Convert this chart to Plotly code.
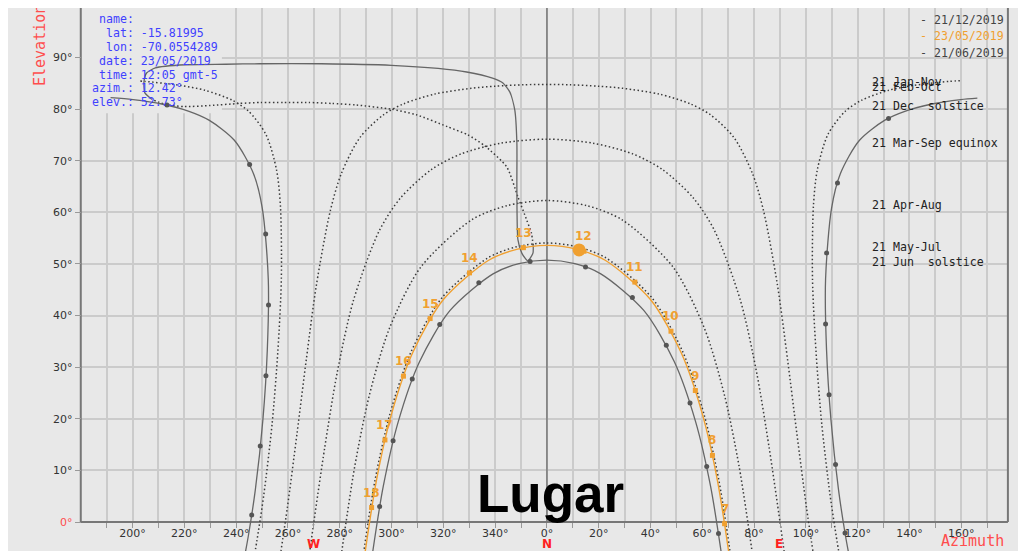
import plotly.graph_objects as go

# ---------------- data (azimuth deg, N = 0, E > 0, W < 0 ; elevation deg) ----------------
dec_east_az = [116.5, 115.25, 112.6, 109.7, 107.97, 107.6, 109.9, 113.3, 120.7, 130.5, 138.2, 148.7, 159.8, 166.2]
dec_east_el = [-6.03, -2.57, 6.22, 19.68, 33.35, 47.1, 60.78, 67.5, 73.97, 77.87, 79.58, 81.0, 81.85, 82.13]
dec_west_az = [-168.5, -159.8, -148.7, -138.2, -130.5, -120.7, -113.3, -109.9, -107.6, -107.97, -109.7, -112.6, -115.25, -116.5]
dec_west_el = [82.22, 81.85, 81.0, 79.58, 77.87, 73.97, 67.5, 60.78, 47.1, 33.35, 19.68, 6.22, -2.57, -6.03]
dec_dots_az = [115.1, 111.45, 108.95, 107.6, 108.0, 112.2, 131.9, -146.7, -114.8, -108.6, -107.5, -108.5, -110.7, -114.0]
dec_dots_el = [-2.14, 11.13, 24.68, 38.39, 52.14, 65.7, 78.2, 80.8, 69.25, 55.8, 42.06, 28.33, 14.72, 1.36]

jan_east_az = [112.9, 112.0, 109.3, 106.1, 103.9, 102.55, 102.9, 104.4, 108.5, 115.2, 121.5, 132.1, 141.5, 155.2, 160.5]
jan_east_el = [-6.33, -3.66, 5.35, 19.1, 33.05, 47.1, 61.2, 68.2, 75.1, 79.6, 81.73, 83.67, 84.6, 85.38, 85.55]
jan_west_az = [-157.0, -155.2, -141.5, -132.1, -121.5, -115.2, -108.5, -104.4, -102.9, -102.55, -103.9, -106.1, -109.3, -112.0, -112.9]
jan_west_el = [85.45, 85.38, 84.6, 83.67, 81.73, 79.6, 75.1, 68.2, 61.2, 47.1, 33.05, 19.1, 5.35, -3.66, -6.33]

feb_az = [102.7, 100.2, 96.5, 92.9, 89.0, 83.6, 79.4, 72.2, 63.0, 55.3, 43.5, 29.3, 20.0, 8.9, 0,
          -8.9, -20.0, -29.3, -43.5, -55.3, -63.0, -72.2, -79.4, -83.6, -89.0, -92.9, -96.5, -100.2, -102.7]
feb_el = [-5.6, 2.88, 17.16, 31.54, 45.96, 60.4, 67.5, 74.5, 78.96, 81.04, 82.9, 84.04, 84.45, 84.72, 84.8,
          84.72, 84.45, 84.04, 82.9, 81.04, 78.96, 74.5, 67.5, 60.4, 45.96, 31.54, 17.16, 2.88, -5.6]

mar_az = [91.6, 90.0, 85.8, 81.06, 74.75, 64.75, 56.6, 44.6, 33.1, 17.6, 0,
          -17.6, -33.1, -44.6, -56.6, -64.75, -74.75, -81.06, -85.8, -90.0, -91.6]
mar_el = [-5.77, 0, 14.42, 28.75, 42.87, 56.43, 62.75, 68.3, 71.34, 73.42, 74.18,
          73.42, 71.34, 68.3, 62.75, 56.43, 42.87, 28.75, 14.42, 0, -5.77]

apr_az = [79.3, 78.5, 74.2, 68.6, 60.8, 48.7, 29.05, 15.5, 0, -15.5, -29.05, -48.7, -60.8, -68.6, -74.2, -78.5, -79.3]
apr_el = [-6.05, -3.22, 10.8, 24.49, 37.55, 49.4, 58.55, 61.29, 62.3, 61.29, 58.55, 49.4, 37.55, 24.49, 10.8, -3.22, -6.05]

may_az = [70.8, 70.6, 66.4, 60.6, 52.4, 40.4, 22.8, 11.8, 0, -11.8, -22.8, -40.4, -52.4, -60.6, -66.4, -70.6, -70.8]
may_el = [-6.29, -5.38, 8.05, 20.98, 33.04, 43.53, 51.17, 53.33, 54.07, 53.33, 51.17, 43.53, 33.04, 20.98, 8.05, -5.38, -6.29]

jun_az = [67.4, 63.2, 57.4, 49.2, 37.4, 20.8, 10.8, 0, -10.8, -20.8, -37.4, -49.2, -57.4, -63.2, -67.4]
jun_el = [-6.22, 6.89, 19.45, 31.05, 41.0, 48.09, 50.06, 50.74, 50.06, 48.09, 41.0, 31.05, 19.45, 6.89, -6.22]
jun_dots_az = [66.25, 61.7, 55.25, 46.1, 33.0, 14.9, -6.5, -26.3, -41.4, -52.0, -59.4, -64.6]
jun_dots_el = [-2.24, 10.73, 23.05, 34.25, 43.5, 49.42, 50.5, 46.36, 38.25, 27.7, 15.76, 3.0]

today_az = [70.35, 70.1, 65.9, 60.1, 51.9, 39.9, 22.5, 11.7, 0, -11.7, -22.5, -39.9, -51.9, -60.1, -65.9, -70.1, -70.35]
today_el = [-6.4, -5.5, 7.89, 20.76, 32.74, 43.16, 50.72, 52.84, 53.6, 52.84, 50.72, 43.16, 32.74, 20.76, 7.89, -5.5, -6.4]
hour_labels = ["7", "8", "9", "10", "11", "12", "13", "14", "15", "16", "17", "18"]
hour_az = [68.6, 63.9, 57.3, 47.9, 33.95, 14.3, -9.07, -29.9, -45.1, -55.4, -62.55, -67.7]
hour_el = [-0.33, 12.9, 25.48, 36.97, 46.49, 52.47, 53.16, 48.27, 39.42, 28.26, 15.9, 2.8]
now_az = [12.42]
now_el = [52.73]

ana_solid_az = [-152.4, -155.3, -155.6, -154.6, -151.2, -139.5, -124.0, -111.0, -87.0, -60.0, -42.0, -31.0, -21.0,
                -17.1, -14.3, -12.4, -11.6, -11.6, -11.2, -9.7, -7.4, -5.4, -5.3]
ana_solid_el = [81.85, 83.2, 85.3, 87.0, 88.0, 88.6, 88.7, 88.8, 88.8, 88.5, 87.9, 87.2, 86.0,
                85.1, 83.3, 79.8, 73.4, 65.0, 54.7, 52.1, 50.6, 52.1, 53.6]
ana_dot_az = [-5.3, -6.0, -7.8, -11.2, -15.5, -24.0, -30.5, -38.4, -50.4, -60.1, -73.6, -83.0, -92.0, -101.7,
              -110.5, -119.0, -130.0, -140.0, -147.3, -152.4]
ana_dot_el = [53.6, 56.0, 58.5, 63.0, 68.8, 72.9, 75.0, 76.6, 78.9, 80.0, 80.8, 81.1, 81.3, 81.3,
              81.3, 81.1, 80.7, 80.5, 80.9, 81.85]

date_labels = ["21 Jan-Nov", "21 Feb-Oct", "21 Dec\u00a0\u00a0solstice", "21 Mar-Sep equinox",
               "21 Apr-Aug", "21 May-Jul", "21 Jun\u00a0\u00a0solstice"]
date_label_el = [85.33, 84.24, 80.6, 73.4, 61.4, 53.2, 50.3]

info_lines = ["\u00a0name:", "\u00a0\u00a0lat: -15.81995", "\u00a0\u00a0lon: -70.0554289", "\u00a0date: 23/05/2019",
              "\u00a0time: 12:05 gmt-5", "azim.: 12.42°", "elev.: 52.73°"]
info_el = [97.5, 94.8, 92.1, 89.3, 86.6, 84.1, 81.4]

legend_texts = ["- 21/12/2019", "- 23/05/2019", "- 21/06/2019"]
legend_el = [97.3, 94.2, 90.9]

x_tick_vals = list(range(-170, 180, 10))
x_tick_text = [(f"{(v + 360) % 360}°" if v % 20 == 0 else "") for v in x_tick_vals]
y_tick_vals = list(range(0, 100, 10))
y_tick_text = ['<span style="color:#ff4d4d">0°</span>'] + [f"{v}°" for v in range(10, 100, 10)]

compass_text = ["W", "N", "E"]
compass_az = [-90.3, 0, 89.6]

# ---------------- figure ----------------
XMIN, XMAX = -208.1, 181.9
YMIN, YMAX = -5.62, 99.6
AX_LEFT, AX_RIGHT = -180.0, 178.0
ORANGE = "#f0a030"
DOTC = "#3a3a3a"
SOLIDC = "#666666"
DOTDASH = "1.5px,2.5px"

fig = go.Figure()

def dotted(az, el):
    fig.add_trace(go.Scatter(x=az, y=el, mode="lines", line=dict(color=DOTC, width=1.5, dash=DOTDASH,
                                                                  shape="spline", smoothing=0.8),
                             hoverinfo="skip", showlegend=False))

for az, el in [(jan_east_az, jan_east_el), (jan_west_az, jan_west_el), (feb_az, feb_el),
               (mar_az, mar_el), (apr_az, apr_el), (may_az, may_el)]:
    dotted(az, el)

# analemma
fig.add_trace(go.Scatter(x=ana_dot_az, y=ana_dot_el, mode="lines",
                         line=dict(color=DOTC, width=1.5, dash=DOTDASH, shape="spline", smoothing=0.6),
                         hoverinfo="skip", showlegend=False))
fig.add_trace(go.Scatter(x=ana_solid_az, y=ana_solid_el, mode="lines",
                         line=dict(color=SOLIDC, width=1.3, shape="spline", smoothing=0.6),
                         hoverinfo="skip", showlegend=False))

for az, el in [(dec_east_az, dec_east_el), (dec_west_az, dec_west_el), (jun_az, jun_el)]:
    fig.add_trace(go.Scatter(x=az, y=el, mode="lines",
                             line=dict(color=SOLIDC, width=1.3, shape="spline", smoothing=0.8),
                             hoverinfo="skip", showlegend=False))
fig.add_trace(go.Scatter(x=dec_dots_az + jun_dots_az, y=dec_dots_el + jun_dots_el, mode="markers",
                         marker=dict(color="#555555", size=5), hoverinfo="skip", showlegend=False))

fig.add_trace(go.Scatter(x=today_az, y=today_el, mode="lines",
                         line=dict(color=ORANGE, width=1.4, shape="spline", smoothing=0.8),
                         hoverinfo="skip", showlegend=False))
fig.add_trace(go.Scatter(x=hour_az, y=hour_el, mode="markers",
                         marker=dict(color=ORANGE, size=5, symbol="square"), hoverinfo="skip", showlegend=False))
fig.add_trace(go.Scatter(x=now_az, y=now_el, mode="markers",
                         marker=dict(color=ORANGE, size=13), hoverinfo="skip", showlegend=False))

ann = []
for t, a, e in zip(hour_labels, hour_az, hour_el):
    ann.append(dict(x=a, y=e, text=f"<b>{t}</b>", showarrow=False, yshift=15,
                    font=dict(family="DejaVu Sans", size=12, color=ORANGE)))
for t, e in zip(date_labels, date_label_el):
    ann.append(dict(x=124.7, y=e, text=t, showarrow=False, xanchor="left", yanchor="middle",
                    font=dict(family="DejaVu Sans Mono", size=11.6, color="#222222")))
for t, e in zip(info_lines, info_el):
    ann.append(dict(x=-176.6, y=e, text=t, showarrow=False, xanchor="left", yanchor="middle",
                    font=dict(family="DejaVu Sans Mono", size=11.6, color="#4040ff")))
for t, e, c in zip(legend_texts, legend_el, ["#444444", ORANGE, "#444444"]):
    ann.append(dict(x=143.2, y=e, text=t, showarrow=False, xanchor="left", yanchor="middle",
                    font=dict(family="DejaVu Sans Mono", size=11.6, color=c)))
for t, a in zip(compass_text, compass_az):
    ann.append(dict(x=a, y=-4.3, text=f"<b>{t}</b>", showarrow=False,
                    font=dict(family="DejaVu Sans", size=12, color="#ff2020")))
ann.append(dict(x=-195.8, y=92.4, text="Elevation", textangle=-90, showarrow=False,
                font=dict(family="DejaVu Sans Mono", size=15, color="#ff4d4d")))
ann.append(dict(x=164.5, y=-3.7, text="Azimuth", showarrow=False,
                font=dict(family="DejaVu Sans Mono", size=15, color="#ff4d4d")))
ann.append(dict(x=1.5, y=5.6, text="<b>Lugar</b>", showarrow=False,
                font=dict(family="Liberation Sans", size=53, color="#000000")))

BG = "#e8e8e8"
shapes = [
    dict(type="rect", x0=XMIN, x1=XMAX, y0=YMIN, y1=-0.2, fillcolor=BG, line_width=0, layer="between"),
    dict(type="rect", x0=XMIN, x1=AX_LEFT, y0=YMIN, y1=YMAX, fillcolor=BG, line_width=0, layer="between"),
    dict(type="rect", x0=AX_RIGHT, x1=XMAX, y0=YMIN, y1=YMAX, fillcolor=BG, line_width=0, layer="between"),
    dict(type="rect", x0=AX_LEFT, x1=-125.5, y0=79.2, y1=YMAX, fillcolor=BG, line_width=0, layer="between"),
    dict(type="line", x0=AX_LEFT, x1=AX_RIGHT, y0=0, y1=0, line=dict(color="#777777", width=2), layer="between"),
    dict(type="line", x0=AX_LEFT, x1=AX_LEFT, y0=0, y1=YMAX, line=dict(color="#777777", width=2), layer="between"),
    dict(type="line", x0=AX_RIGHT, x1=AX_RIGHT, y0=0, y1=YMAX, line=dict(color="#777777", width=2), layer="between"),
    dict(type="line", x0=0, x1=0, y0=0, y1=YMAX, line=dict(color="#777777", width=1.5), layer="between"),
]

fig.update_layout(
    width=1010, height=543,
    margin=dict(l=0, r=0, t=0, b=0),
    paper_bgcolor="white", plot_bgcolor=BG,
    showlegend=False,
    annotations=ann, shapes=shapes,
    xaxis=dict(range=[XMIN, XMAX], tickvals=x_tick_vals, ticktext=x_tick_text,
               showgrid=True, gridcolor="#cbcbcb", gridwidth=1.5, zeroline=False, showline=False,
               anchor="free", position=(0 - YMIN) / (YMAX - YMIN),
               ticks="outside", ticklen=5, tickcolor="#999999", ticklabelstandoff=-4,
               tickfont=dict(family="DejaVu Sans", size=11, color="#333333")),
    yaxis=dict(range=[YMIN, YMAX], tickvals=y_tick_vals, ticktext=y_tick_text,
               showgrid=True, gridcolor="#cbcbcb", gridwidth=1.5, zeroline=False, showline=False,
               anchor="free", position=(AX_LEFT - XMIN) / (XMAX - XMIN),
               ticks="outside", ticklen=6, tickcolor="#999999",
               tickfont=dict(family="DejaVu Sans", size=11, color="#333333")),
)

fig.write_html("out.html")
